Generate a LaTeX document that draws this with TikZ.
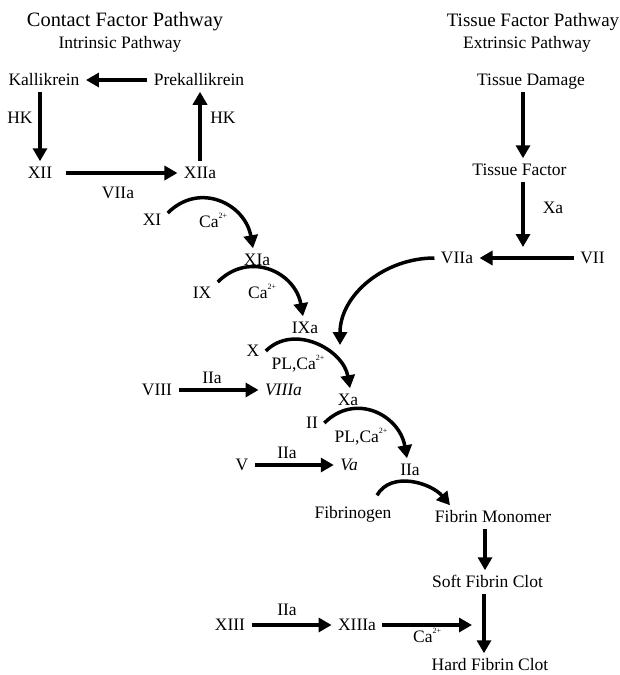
\documentclass[tikz,border=0pt]{standalone}
\usepackage{fontspec}
\setmainfont{Liberation Serif}
\usetikzlibrary{arrows.meta}

\newcommand\facsize{\fontsize{17.5}{21}\selectfont}
\newcommand\caion{Ca\raisebox{8.5pt}{\fontsize{8}{8}\selectfont 2+}}

\begin{document}
\begin{tikzpicture}[x=1pt,y=1pt,
  fac/.style={font=\facsize,inner sep=1.5pt,outer xsep=5pt,outer ysep=3pt,text height=12.5pt,text depth=2pt},
  lbl/.style={font=\facsize,inner sep=1.5pt,text height=12.5pt,text depth=2pt},
  conv/.style={line width=3.5pt,>={Triangle[length=13pt,width=14pt]},->}]

\useasboundingbox (0,0) rectangle (619,-675);

% titles
\node [font=\fontsize{20.4}{24}\selectfont] (contact) at (125,-22) {Contact Factor Pathway};
\node [lbl] (intr) at (120,-43) {Intrinsic Pathway};
\node [font=\fontsize{19}{23}\selectfont] (tissue) at (533,-22) {Tissue Factor Pathway};
\node [lbl] (extr) at (527,-43) {Extrinsic Pathway};

% contact loop
\node [fac] (kal) at (44,-80) {Kallikrein};
\node [fac] (prek) at (199,-80) {Prekallikrein};
\node [fac] (fxii) at (40,-173) {XII};
\node [fac] (fxiia) at (200,-173) {XIIa};
\node [lbl] (hkl) at (20,-118) {HK};
\node [lbl] (hkr) at (223,-118) {HK};
\node [lbl] (viiab) at (118,-193) {VIIa};

\draw [conv] (prek) -- (kal);
\draw [conv] (fxii |- kal.south) -- (fxii);
\draw [conv,shorten <=7pt] (fxii) -- (fxiia);
\draw [conv] (fxiia) -- (fxiia |- prek.south);

% intrinsic cascade
\node [fac] (fxi) at (152,-220) {XI};
\node [fac] (fxia) at (257,-260) {XIa};
\node [fac] (fix) at (202,-293) {IX};
\node [fac] (fixa) at (305,-328) {IXa};
\node [fac] (fx) at (253,-351) {X};
\node [fac] (fxa) at (348,-400) {Xa};
\node [fac] (fii) at (312,-423) {II};
\node [fac] (fiia) at (410,-470) {IIa};
\node [lbl,anchor=west] (ca1) at (197.5,-222) {\caion};
\node [lbl,anchor=west] (ca2) at (246.5,-293) {\caion};
\node [lbl,anchor=west] (plca1) at (270,-364) {PL,\caion};
\node [lbl,anchor=west] (plca2) at (333,-437) {PL,\caion};

\draw [conv] ([yshift=7pt]fxi.east) to[out=45,in=100,looseness=1.25] ([xshift=-4pt]fxia.north);
\draw [conv] ([yshift=11pt]fix.east) to[out=45,in=100,looseness=1.25] ([xshift=-2pt]fixa.north);
\draw [conv] (fx.east) to[out=45,in=100,looseness=1.1] ([xshift=2pt]fxa.north);
\draw [conv] (fii.east) to[out=45,in=100,looseness=1.25] ([xshift=-3pt]fiia.north);

% cofactors
\node [fac] (fviii) at (157,-390) {VIII};
\node [fac] (fviiia) at (283.5,-390) {\textit{VIIIa}};
\node [lbl] (iiab) at (212,-378) {IIa};
\node [fac] (fv) at (242,-465) {V};
\node [fac] (fva) at (349,-465) {\textit{Va}};
\node [lbl] (iiac) at (287,-453) {IIa};

\draw [conv] (fviii) -- (fviiia);
\draw [conv] (fv) -- (fva);

% extrinsic pathway
\node [fac] (td) at (531,-80) {Tissue Damage};
\node [fac] (tf) at (519.5,-170) {Tissue Factor};
\node [lbl] (xab) at (553,-208) {Xa};
\node [fac] (fviia) at (457,-258) {VIIa};
\node [fac] (fvii) at (592.5,-258) {VII};
\coordinate (tfin) at (523,-247);
\coordinate (xin) at (340,-345);

\draw [conv] ([xshift=3.5pt]tf.north |- td.south) -- ([xshift=3.5pt]tf.north);
\draw [conv] ([xshift=3.5pt]tf.south) -- (tfin);
\draw [conv] (fvii) -- (fviia);
\draw [conv] (fviia.west) to[out=180,in=90] (xin);

% fibrin
\node [fac] (fbg) at (353,-513) {Fibrinogen};
\node [fac] (fm) at (493,-517) {Fibrin Monomer};
\node [fac] (sfc) at (487.5,-582) {Soft Fibrin Clot};
\node [fac] (hfc) at (490,-665) {Hard Fibrin Clot};
\node [fac] (fxiii) at (230,-625) {XIII};
\node [fac] (fxiiia) at (357,-625) {XIIIa};
\node [lbl] (iiad) at (287,-610) {IIa};
\node [lbl,anchor=west] (ca3) at (411.5,-637) {\caion};
\coordinate (clot) at (472,-625);

\draw [conv] ([shift={(24,6)}]fbg.north) to[out=60,in=130] ([xshift=-43pt]fm.north);
\draw [conv] ([xshift=-2.5pt]sfc.north |- fm.south) -- ([xshift=-2.5pt]sfc.north);
\draw [conv] ([xshift=-6pt]hfc.north |- sfc.south) -- ([xshift=-6pt]hfc.north);
\draw [conv] (fxiii) -- (fxiiia);
\draw [conv] (fxiiia) -- (clot);
\end{tikzpicture}
\end{document}
